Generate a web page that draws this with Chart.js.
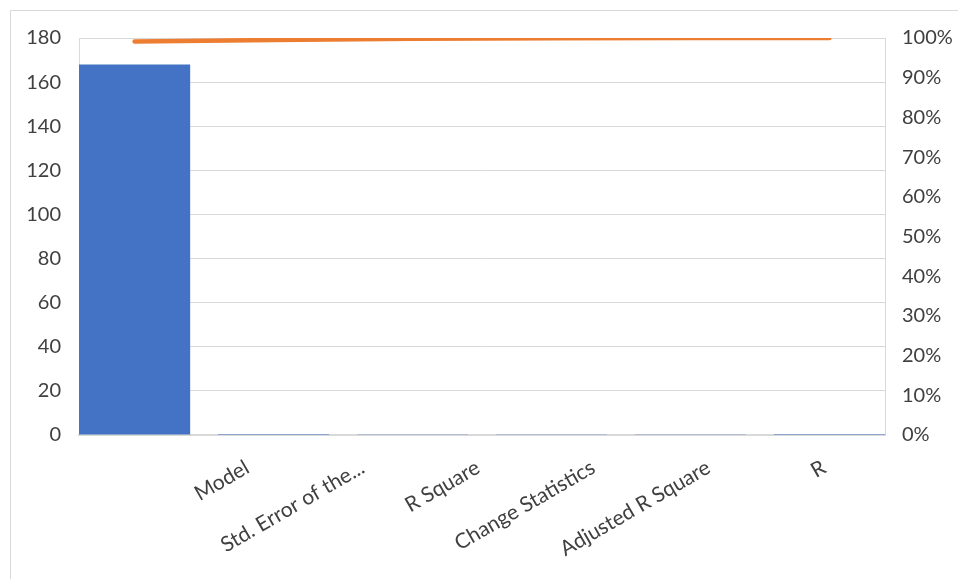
<!DOCTYPE html>
<html lang="en">
  <head>
    <meta charset="UTF-8" />
    <title>Pareto chart</title>
    <script src="https://cdn.jsdelivr.net/npm/chart.js"></script>
    <style>
      html, body { margin: 0; padding: 0; background: #ffffff; }
      body { width: 958px; height: 579px; overflow: hidden; position: relative; }
      #frame {
        position: absolute; left: 10px; top: 10px; width: 1000px; height: 600px;
        border-left: 1px solid #d9d9d9; border-top: 1px solid #d9d9d9;
      }
      #wrap { position: absolute; left: 0; top: 0; width: 958px; height: 579px; }
    </style>
  </head>
  <body>
    <div id="frame"></div>
    <div id="wrap"><canvas id="paretoChart"></canvas></div>

    <script>
      // categories, counts and cumulative percentage
      const categories = ["Model", "Std. Error of the...", "R Square", "Change Statistics", "Adjusted R Square", "R"];
      const counts = [168, 0.4, 0.3, 0.15, 0.08, 0.03];
      const cumulativePct = [99.1, 99.5, 99.8, 99.95, 100, 100];
      const leftTicks = [0, 20, 40, 60, 80, 100, 120, 140, 160, 180];

      const textColor = "#404040";
      const gridColor = "#d9d9d9";
      const tickFont = { family: "Lato", size: 20 };

      // integer positions 0..n-1, one per category
      const catTicks = (axis) => {
        axis.ticks = categories.map((_, i) => ({ value: i }));
      };

      const ctx = document.getElementById("paretoChart").getContext("2d");
      new Chart(ctx, {
        data: {
          datasets: [
            {
              type: "line",
              data: cumulativePct.map((v, i) => ({ x: i, y: v })),
              yAxisID: "y1",
              borderColor: "#ED7D31",
              borderWidth: 4.5,
              borderCapStyle: "round",
              pointRadius: 0,
              tension: 0,
              order: 0,
            },
            {
              type: "bar",
              data: counts.map((v, i) => ({ x: i, y: v })),
              yAxisID: "y",
              backgroundColor: "#4472C4",
              categoryPercentage: 1,
              barPercentage: 0.8,
              order: 1,
            },
          ],
        },
        options: {
          responsive: true,
          maintainAspectRatio: false,
          animation: false,
          layout: { padding: { top: 38, left: 0, right: 0, bottom: 0 } },
          plugins: { legend: { display: false }, tooltip: { enabled: false } },
          scales: {
            x: {
              type: "linear",
              min: -0.4,
              max: 5.4,
              offset: false,
              display: false,
              afterBuildTicks: catTicks,
            },
            xl: {
              type: "linear",
              position: "bottom",
              min: -1.46,
              max: 5.53,
              offset: false,
              afterBuildTicks: catTicks,
              afterFit: (s) => { s.height = 144; },
              grid: { display: false, drawTicks: false },
              border: { display: true, color: gridColor, width: 2 },
              ticks: {
                autoSkip: false,
                minRotation: 30,
                maxRotation: 30,
                padding: 20,
                color: textColor,
                font: { family: "Lato", size: 21 },
                callback: (v) => categories[v],
              },
            },
            y: {
              position: "left",
              min: 0,
              max: 180,
              afterBuildTicks: (axis) => {
                axis.ticks = leftTicks.map((v) => ({ value: v }));
              },
              afterFit: (s) => { s.width = 79; },
              grid: { color: gridColor, drawTicks: false },
              border: { color: gridColor },
              ticks: { padding: 18, color: textColor, font: tickFont },
            },
            y1: {
              position: "right",
              min: 0,
              max: 100,
              afterFit: (s) => { s.width = 73; },
              grid: { display: false, drawTicks: false },
              border: { color: gridColor },
              ticks: {
                stepSize: 10,
                padding: 17,
                color: textColor,
                font: tickFont,
                callback: (v) => v + "%",
              },
            },
          },
        },
      });
    </script>
  </body>
</html>
